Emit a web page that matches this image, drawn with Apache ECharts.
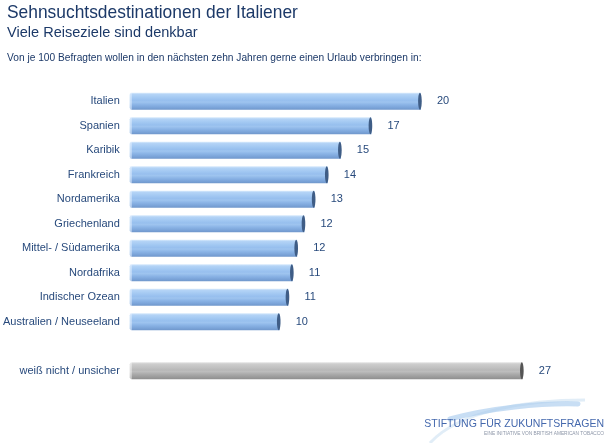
<!DOCTYPE html>
<html>
<head>
<meta charset="utf-8">
<script src="https://cdn.jsdelivr.net/npm/echarts@6/dist/echarts.min.js"></script>
<style>
  html, body { margin: 0; padding: 0; background: #fff; }
  #chart { width: 610px; height: 443px; }
</style>
</head>
<body>
<div id="chart"></div>
<script>
// categories top to bottom, '' is the gap row before "weiß nicht"
let destinations = ['Italien', 'Spanien', 'Karibik', 'Frankreich', 'Nordamerika', 'Griechenland',
  'Mittel- / Südamerika', 'Nordafrika', 'Indischer Ozean', 'Australien / Neuseeland', '', 'weiß nicht / unsicher']
// von je 100 Befragten (bar lengths, labels rounded)
let shares = [20, 16.6, 14.5, 13.6, 12.7, 12.0, 11.5, 11.2, 10.9, 10.3, null, 27]
let greyRows = [11]

let dom = document.getElementById('chart')
let chart = echarts.init(dom, null, { renderer: 'canvas' })

const blueFill = new echarts.graphic.LinearGradient(0, 0, 0, 1, [
  { offset: 0, color: '#d8eafc' },
  { offset: 0.1, color: '#b3d3f6' },
  { offset: 0.3, color: '#a2c8f2' },
  { offset: 0.45, color: '#97bfee' },
  { offset: 0.55, color: '#9ec4ef' },
  { offset: 0.7, color: '#8bb4e6' },
  { offset: 0.88, color: '#7aa3d8' },
  { offset: 1, color: '#7097cb' }
])
const greyFill = new echarts.graphic.LinearGradient(0, 0, 0, 1, [
  { offset: 0, color: '#e4e4e4' },
  { offset: 0.1, color: '#cdcdcd' },
  { offset: 0.3, color: '#c2c2c2' },
  { offset: 0.45, color: '#b8b8b8' },
  { offset: 0.55, color: '#bdbdbd' },
  { offset: 0.7, color: '#ababab' },
  { offset: 0.88, color: '#9a9a9a' },
  { offset: 1, color: '#8e8e8e' }
])

function renderBar (params, api) {
  let val = api.value(1)
  let idx = api.value(0)
  if (val == null || isNaN(val)) return
  let start = api.coord([0, idx])
  let end = api.coord([val, idx])
  let h = api.size([0, 1])[1] * 0.69
  let grey = greyRows.indexOf(idx) > -1
  let w = end[0] - start[0]
  let children = [
    {
      type: 'rect',
      shape: { x: start[0], y: end[1] - h / 2, width: w, height: h, r: [2, 0, 0, 2] },
      style: { fill: grey ? greyFill : blueFill }
    },
    {
      type: 'rect',
      shape: { x: start[0], y: end[1] - h / 2, width: 2, height: h },
      style: { fill: grey ? 'rgba(255,255,255,0.5)' : 'rgba(230,242,255,0.6)' }
    },
    {
      type: 'ellipse',
      shape: { cx: end[0] - 1, cy: end[1], rx: 1.8, ry: h / 2 },
      style: { fill: grey ? '#555555' : '#3f5d86' }
    },
    {
      type: 'text',
      style: {
        text: String(Math.round(val)),
        x: end[0] + 16,
        y: end[1],
        verticalAlign: 'middle',
        fill: '#284a7c',
        font: '11px "Liberation Sans", Arial, sans-serif'
      }
    }
  ]
  return { type: 'group', children: children }
}

let option = {
  animation: false,
  grid: { left: 127, top: 89, width: 439.5, height: 294 },
  xAxis: {
    type: 'value',
    min: 0,
    max: 30,
    show: false
  },
  yAxis: {
    type: 'category',
    data: destinations,
    inverse: true,
    axisLine: { show: false },
    axisTick: { show: false },
    axisLabel: {
      margin: 10,
      color: '#284a7c',
      fontSize: 11,
      fontFamily: 'Liberation Sans'
    }
  },
  series: [
    {
      type: 'custom',
      renderItem: renderBar,
      encode: { x: 1, y: 0 },
      data: shares.map((v, i) => [i, v])
    }
  ],
  graphic: [
    {
      type: 'text', x: 7, y: 3, scaleX: 0.915,
      style: { text: 'Sehnsuchtsdestinationen der Italiener', fill: '#1c3968', font: '19px "Liberation Sans", Arial, sans-serif' }
    },
    {
      type: 'text', x: 7, y: 25, scaleX: 0.97,
      style: { text: 'Viele Reiseziele sind denkbar', fill: '#1c3968', font: '15px "Liberation Sans", Arial, sans-serif' }
    },
    {
      type: 'text', x: 7, y: 52, scaleX: 0.926,
      style: { text: 'Von je 100 Befragten wollen in den nächsten zehn Jahren gerne einen Urlaub verbringen in:', fill: '#1c3968', font: '11px "Liberation Sans", Arial, sans-serif' }
    },
    {
      type: 'bezierCurve',
      shape: { x1: 430, y1: 443, x2: 585, y2: 400, cpx1: 460, cpy1: 410, cpx2: 530, cpy2: 400 },
      style: { stroke: 'rgba(205,225,242,0.6)', lineWidth: 3, fill: null }
    },
    {
      type: 'bezierCurve',
      shape: { x1: 450, y1: 419, x2: 578, y2: 404, cpx1: 490, cpy1: 408, cpx2: 540, cpy2: 403 },
      style: { stroke: 'rgba(170,205,238,0.65)', lineWidth: 5, fill: null, lineCap: 'round' }
    },
    {
      type: 'text', right: 6, top: 419,
      style: { text: 'STIFTUNG FÜR ZUKUNFTSFRAGEN', fill: '#4468ad', font: '10.5px "Liberation Sans", Arial, sans-serif' }
    },
    {
      type: 'text', right: 6, top: 431,
      style: { text: 'EINE INITIATIVE VON BRITISH AMERICAN TOBACCO', fill: '#8d96a8', font: '4.8px "Liberation Sans", Arial, sans-serif' }
    }
  ]
}
chart.setOption(option)
</script>
</body>
</html>
